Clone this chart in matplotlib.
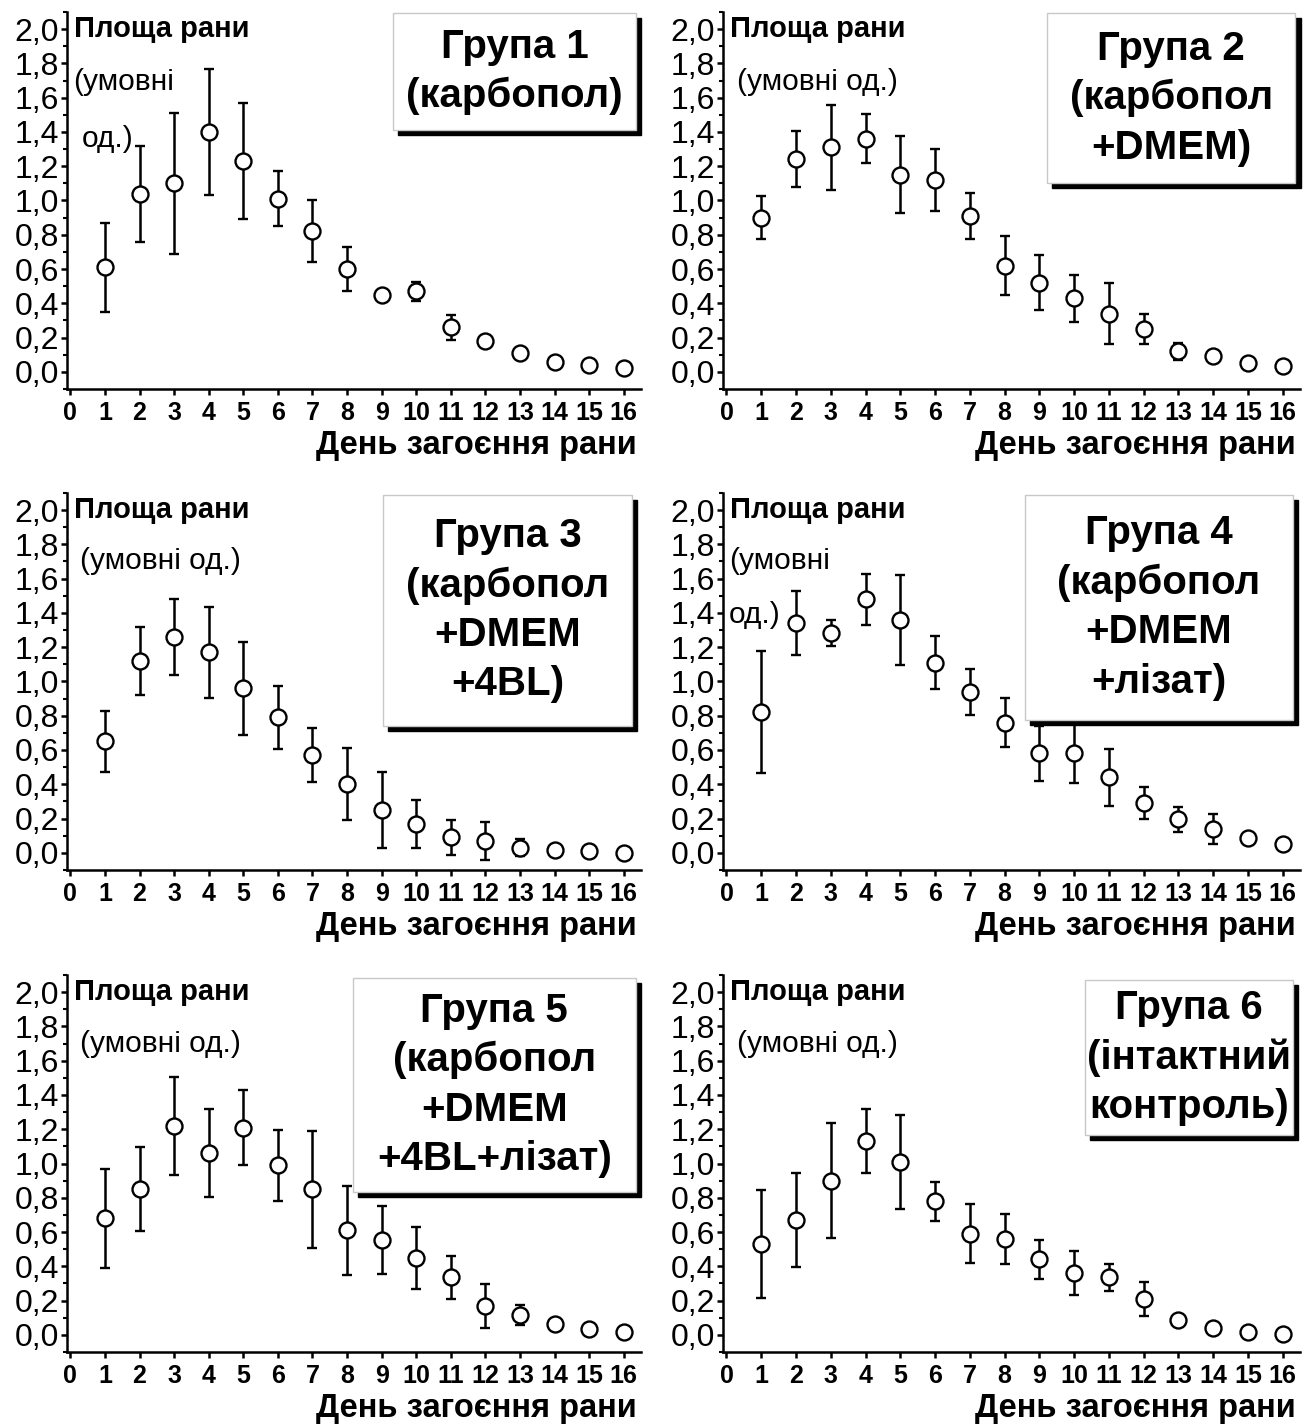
import matplotlib
matplotlib.use("Agg")
import matplotlib.pyplot as plt
from matplotlib.patches import Rectangle
from matplotlib.ticker import MultipleLocator, FuncFormatter
from matplotlib import font_manager

days = list(range(1, 17))

g1_mean = [0.61, 1.04, 1.10, 1.40, 1.23, 1.01, 0.82, 0.60, 0.45, 0.47, 0.26, 0.18, 0.11, 0.06, 0.04, 0.02]
g1_err = [0.26, 0.28, 0.41, 0.37, 0.34, 0.16, 0.18, 0.13, 0.00, 0.055, 0.073, 0.02, 0.01, 0.015, 0.02, 0.015]

g2_mean = [0.90, 1.24, 1.31, 1.36, 1.15, 1.12, 0.91, 0.62, 0.52, 0.43, 0.34, 0.25, 0.12, 0.09, 0.05, 0.035]
g2_err = [0.125, 0.163, 0.25, 0.143, 0.225, 0.18, 0.135, 0.172, 0.16, 0.138, 0.176, 0.087, 0.05, 0.01, 0.015, 0.015]

g3_mean = [0.65, 1.12, 1.26, 1.17, 0.96, 0.79, 0.57, 0.40, 0.25, 0.17, 0.09, 0.07, 0.03, 0.014, 0.01, 0.0]
g3_err = [0.18, 0.197, 0.22, 0.265, 0.27, 0.185, 0.158, 0.21, 0.22, 0.14, 0.103, 0.11, 0.048, 0.01, 0.01, 0.02]

g4_mean = [0.82, 1.34, 1.28, 1.48, 1.36, 1.11, 0.94, 0.76, 0.58, 0.585, 0.44, 0.29, 0.195, 0.14, 0.084, 0.049]
g4_err = [0.355, 0.187, 0.076, 0.148, 0.262, 0.153, 0.133, 0.141, 0.162, 0.18, 0.166, 0.093, 0.075, 0.086, 0.01, 0.01]

g5_mean = [0.68, 0.85, 1.22, 1.06, 1.21, 0.99, 0.85, 0.61, 0.555, 0.45, 0.335, 0.17, 0.117, 0.062, 0.033, 0.018]
g5_err = [0.29, 0.246, 0.285, 0.258, 0.22, 0.207, 0.342, 0.258, 0.198, 0.182, 0.127, 0.127, 0.058, 0.01, 0.01, 0.01]

g6_mean = [0.53, 0.67, 0.90, 1.13, 1.01, 0.78, 0.59, 0.56, 0.44, 0.36, 0.335, 0.21, 0.086, 0.043, 0.014, 0.004]
g6_err = [0.315, 0.276, 0.336, 0.186, 0.276, 0.114, 0.172, 0.145, 0.113, 0.13, 0.08, 0.098, 0.01, 0.015, 0.02, 0.02]

titles = [
    "Група 1\n(карбопол)",
    "Група 2\n(карбопол\n+DMEM)",
    "Група 3\n(карбопол\n+DMEM\n+4BL)",
    "Група 4\n(карбопол\n+DMEM\n+лізат)",
    "Група 5\n(карбопол\n+DMEM\n+4BL+лізат)",
    "Група 6\n(інтактний\nконтроль)",
]
ylabel_top = "Площа рани"
xlabel = "День загоєння рани"

means = [g1_mean, g2_mean, g3_mean, g4_mean, g5_mean, g6_mean]
errs = [g1_err, g2_err, g3_err, g4_err, g5_err, g6_err]

# box extents in axes fraction: x0, x1, y0, y1
boxes = [
    (0.568, 0.991, 0.687, 0.997),
    (0.562, 0.992, 0.546, 0.997),
    (0.551, 0.984, 0.383, 0.995),
    (0.523, 0.988, 0.398, 0.995),
    (0.498, 0.991, 0.425, 0.992),
    (0.627, 0.988, 0.576, 0.987),
]
# unit label: lines and (x, y) positions (x axes fraction, y data)
unit_labels = [
    [("(умовні", 0.010, 1.69), ("од.)", 0.026, 1.36)],
    [("(умовні од.)", 0.024, 1.69)],
    [("(умовні од.)", 0.023, 1.70)],
    [("(умовні", 0.010, 1.70), ("од.)", 0.010, 1.39)],
    [("(умовні од.)", 0.023, 1.70)],
    [("(умовні од.)", 0.024, 1.70)],
]

installed = {f.name for f in font_manager.fontManager.ttflist}
base_font = "Liberation Sans" if "Liberation Sans" in installed else "DejaVu Sans"
narrow_font = "Liberation Sans Narrow" if "Liberation Sans Narrow" in installed else base_font
plt.rcParams['font.family'] = [base_font, 'DejaVu Sans']

fig = plt.figure(figsize=(13.1, 14.28), dpi=100)

col_x = [(0.0511, 0.4382), (0.5519, 0.4405)]
row_y = [0.7276, 0.3908, 0.0532]
h = 0.264

for i in range(6):
    r, c = divmod(i, 2)
    ax = fig.add_axes([col_x[c][0], row_y[r], col_x[c][1], h])
    ax.errorbar(days, means[i], yerr=errs[i], fmt='o', ms=11.5, mfc='white', mec='black',
                mew=1.7, ecolor='black', elinewidth=1.8, capsize=3.6, capthick=1.8, zorder=3)
    ax.set_xlim(-0.1, 16.5)
    ax.set_ylim(-0.1, 2.1)
    for s in ['top', 'right']:
        ax.spines[s].set_visible(False)
    for s in ['left', 'bottom']:
        ax.spines[s].set_linewidth(1.8)
    ax.xaxis.set_major_locator(MultipleLocator(1))
    ax.yaxis.set_major_locator(MultipleLocator(0.2))
    ax.yaxis.set_minor_locator(MultipleLocator(0.1))
    ax.yaxis.set_major_formatter(FuncFormatter(lambda v, p: f"{v:.1f}".replace('.', ',')))
    ax.tick_params(axis='both', which='major', direction='out', length=4.5, width=1.8)
    ax.tick_params(axis='y', which='minor', direction='out', length=3, width=1.5)
    ax.tick_params(axis='y', labelsize=23, pad=1)
    ax.tick_params(axis='x', labelsize=18, pad=4)
    for lab in ax.get_xticklabels():
        lab.set_fontfamily(narrow_font)
        lab.set_fontweight('bold')

    ax.text(1.0 - 0.007, -0.151, xlabel, transform=ax.transAxes, ha='right', va='center',
            fontsize=23.5, fontweight='bold')
    ax.text(0.012, 2.0, ylabel_top, transform=ax.get_yaxis_transform(), ha='left',
            va='center', fontsize=21, fontweight='bold')
    for txt, tx, ty in unit_labels[i]:
        ax.text(tx, ty, txt, transform=ax.get_yaxis_transform(), ha='left', va='center',
                fontsize=21.5)

    x0, x1, y0, y1 = boxes[i]
    dx, dy = 0.009, 0.014
    ax.add_patch(Rectangle((x0 + dx, y0 - dy), x1 - x0, y1 - y0, transform=ax.transAxes,
                           facecolor='black', edgecolor='black', clip_on=False, zorder=5))
    ax.add_patch(Rectangle((x0, y0), x1 - x0, y1 - y0, transform=ax.transAxes,
                           facecolor='white', edgecolor='#c8c8c8', lw=1, clip_on=False, zorder=6))
    ax.text((x0 + x1) / 2, (y0 + y1) / 2, titles[i], transform=ax.transAxes, ha='center',
            va='center', fontsize=29, fontweight='bold', linespacing=1.38, zorder=7)

fig.savefig("out.png", dpi=100)
